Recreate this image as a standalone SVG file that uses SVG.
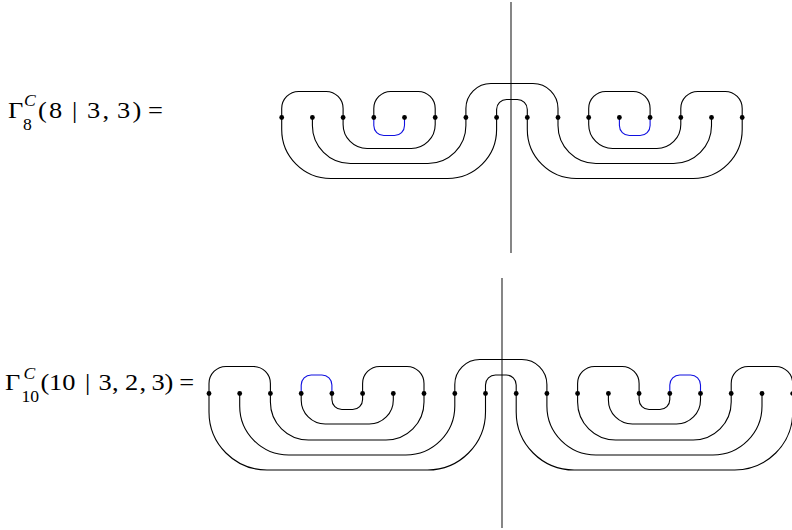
<svg xmlns="http://www.w3.org/2000/svg" width="792" height="530" viewBox="0 0 792 530">
<style>
.c{fill:none;stroke:#000;stroke-width:1.1}
.b{fill:none;stroke:#1010e0;stroke-width:1.1}
.v{fill:none;stroke:#222;stroke-width:1.1}
.d{fill:#000}
.t{font-family:"Liberation Serif","Times New Roman",serif;font-size:24px;fill:#000}
.s{font-family:"Liberation Serif","Times New Roman",serif;font-size:16px;fill:#000}
.i{font-style:italic}
</style>
<rect width="792" height="530" fill="#fff"/>
<g id="label1" transform="scale(1.1,1)">
<text class="t" x="7.3" y="118">Γ</text>
<text class="s" x="20.9" y="130">8</text>
<text class="s i" x="21.8" y="106">C</text>
<text class="t" x="34.5" y="118">(</text>
<text class="t" x="44.5" y="118">8</text>
<text class="t" x="65.5" y="118">|</text>
<text class="t" x="79.1" y="118">3</text>
<text class="t" x="93.2" y="118">,</text>
<text class="t" x="106.4" y="118">3</text>
<text class="t" x="120.4" y="118">)</text>
<text class="t" x="134.5" y="118">=</text>
</g>
<g id="label2" transform="scale(1.1,1)">
<text class="t" x="4.5" y="390">Γ</text>
<text class="s" x="19.5" y="402">10</text>
<text class="s i" x="21.4" y="379">C</text>
<text class="t" x="36.8" y="390">(</text>
<text class="t" x="44.5" y="390">10</text>
<text class="t" x="77.3" y="390">|</text>
<text class="t" x="89.5" y="390">3</text>
<text class="t" x="101.8" y="390">,</text>
<text class="t" x="113.6" y="390">2</text>
<text class="t" x="126.8" y="390">,</text>
<text class="t" x="137.7" y="390">3</text>
<text class="t" x="149.5" y="390">)</text>
<text class="t" x="163" y="390">=</text>
</g>
<g id="connectors">
<line class="v" x1="511" y1="2" x2="511" y2="253"/>
<line class="v" x1="502" y1="278" x2="502" y2="528"/>
<path class="c" d="M281.7,117.5 V108.5 A17 17 0 0 1 298.7,91.5 H326.1 A17 17 0 0 1 343.1,108.5 V117.5"/>
<path class="c" d="M373.8,117.5 V108.5 A17 17 0 0 1 390.8,91.5 H418.2 A17 17 0 0 1 435.2,108.5 V117.5"/>
<path class="c" d="M588.7,117.5 V108.5 A17 17 0 0 1 605.7,91.5 H633.1 A17 17 0 0 1 650.1,108.5 V117.5"/>
<path class="c" d="M680.8,117.5 V108.5 A17 17 0 0 1 697.8,91.5 H725.2 A17 17 0 0 1 742.2,108.5 V117.5"/>
<path class="c" d="M465.9,117.5 V108.5 A25 25 0 0 1 490.9,83.5 H533 A25 25 0 0 1 558,108.5 V117.5"/>
<path class="c" d="M496.6,117.5 V109.5 A10 10 0 0 1 506.6,99.5 H517.3 A10 10 0 0 1 527.3,109.5 V117.5"/>
<path class="b" d="M373.8,117.5 V125.5 A10 10 0 0 0 383.8,135.5 H394.5 A10 10 0 0 0 404.5,125.5 V117.5"/>
<path class="b" d="M619.4,117.5 V125.5 A10 10 0 0 0 629.4,135.5 H640.1 A10 10 0 0 0 650.1,125.5 V117.5"/>
<path class="c" d="M343.1,117.5 V124.5 A24 24 0 0 0 367.1,148.5 H411.2 A24 24 0 0 0 435.2,124.5 V117.5"/>
<path class="c" d="M588.7,117.5 V124.5 A24 24 0 0 0 612.7,148.5 H656.8 A24 24 0 0 0 680.8,124.5 V117.5"/>
<path class="c" d="M312.4,117.5 V125.5 A38 38 0 0 0 350.4,163.5 H427.9 A38 38 0 0 0 465.9,125.5 V117.5"/>
<path class="c" d="M558,117.5 V125.5 A38 38 0 0 0 596,163.5 H673.5 A38 38 0 0 0 711.5,125.5 V117.5"/>
<path class="c" d="M281.7,117.5 V129.5 A49 49 0 0 0 330.7,178.5 H447.6 A49 49 0 0 0 496.6,129.5 V117.5"/>
<path class="c" d="M527.3,117.5 V129.5 A49 49 0 0 0 576.3,178.5 H693.2 A49 49 0 0 0 742.2,129.5 V117.5"/>
<path class="c" d="M209,393.5 V383.5 A17 17 0 0 1 226,366.5 H253.4 A17 17 0 0 1 270.4,383.5 V393.5"/>
<path class="c" d="M362.6,393.5 V383.5 A17 17 0 0 1 379.6,366.5 H407 A17 17 0 0 1 424,383.5 V393.5"/>
<path class="c" d="M577.6,393.5 V383.5 A17 17 0 0 1 594.6,366.5 H622.1 A17 17 0 0 1 639.1,383.5 V393.5"/>
<path class="c" d="M731.2,393.5 V383.5 A17 17 0 0 1 748.2,366.5 H775.7 A17 17 0 0 1 792.7,383.5 V393.5"/>
<path class="b" d="M301.2,393.5 V385 A10 10 0 0 1 311.2,375 H321.9 A10 10 0 0 1 331.9,385 V393.5"/>
<path class="b" d="M669.8,393.5 V385 A10 10 0 0 1 679.8,375 H690.5 A10 10 0 0 1 700.5,385 V393.5"/>
<path class="c" d="M485.5,393.5 V385 A10 10 0 0 1 495.5,375 H506.2 A10 10 0 0 1 516.2,385 V393.5"/>
<path class="c" d="M454.8,393.5 V384.5 A25 25 0 0 1 479.8,359.5 H521.9 A25 25 0 0 1 546.9,384.5 V393.5"/>
<path class="c" d="M331.9,393.5 V399.5 A10 10 0 0 0 341.9,409.5 H352.6 A10 10 0 0 0 362.6,399.5 V393.5"/>
<path class="c" d="M639.1,393.5 V399.5 A10 10 0 0 0 649.1,409.5 H659.8 A10 10 0 0 0 669.8,399.5 V393.5"/>
<path class="c" d="M301.2,393.5 V400 A24 24 0 0 0 325.2,424 H369.3 A24 24 0 0 0 393.3,400 V393.5"/>
<path class="c" d="M608.4,393.5 V400 A24 24 0 0 0 632.4,424 H676.5 A24 24 0 0 0 700.5,400 V393.5"/>
<path class="c" d="M270.4,393.5 V402 A38 38 0 0 0 308.4,440 H386 A38 38 0 0 0 424,402 V393.5"/>
<path class="c" d="M577.6,393.5 V402 A38 38 0 0 0 615.6,440 H693.2 A38 38 0 0 0 731.2,402 V393.5"/>
<path class="c" d="M239.7,393.5 V406 A49 49 0 0 0 288.7,455 H405.8 A49 49 0 0 0 454.8,406 V393.5"/>
<path class="c" d="M546.9,393.5 V406 A49 49 0 0 0 595.9,455 H713 A49 49 0 0 0 762,406 V393.5"/>
<path class="c" d="M209,393.5 V412 A58 58 0 0 0 267,470 H427.5 A58 58 0 0 0 485.5,412 V393.5"/>
<path class="c" d="M516.2,393.5 V412 A58 58 0 0 0 574.2,470 H734.7 A58 58 0 0 0 792.7,412 V393.5"/>
</g>
<g id="dots1">
<circle class="d" cx="281.7" cy="117.5" r="2.4"/><circle class="d" cx="312.4" cy="117.5" r="2.4"/><circle class="d" cx="343.1" cy="117.5" r="2.4"/><circle class="d" cx="373.8" cy="117.5" r="2.4"/><circle class="d" cx="404.5" cy="117.5" r="2.4"/><circle class="d" cx="435.2" cy="117.5" r="2.4"/><circle class="d" cx="465.9" cy="117.5" r="2.4"/><circle class="d" cx="496.6" cy="117.5" r="2.4"/><circle class="d" cx="527.3" cy="117.5" r="2.4"/><circle class="d" cx="558" cy="117.5" r="2.4"/><circle class="d" cx="588.7" cy="117.5" r="2.4"/><circle class="d" cx="619.4" cy="117.5" r="2.4"/><circle class="d" cx="650.1" cy="117.5" r="2.4"/><circle class="d" cx="680.8" cy="117.5" r="2.4"/><circle class="d" cx="711.5" cy="117.5" r="2.4"/><circle class="d" cx="742.2" cy="117.5" r="2.4"/>
</g>
<g id="dots2">
<circle class="d" cx="209" cy="393.5" r="2.4"/><circle class="d" cx="239.7" cy="393.5" r="2.4"/><circle class="d" cx="270.4" cy="393.5" r="2.4"/><circle class="d" cx="301.2" cy="393.5" r="2.4"/><circle class="d" cx="331.9" cy="393.5" r="2.4"/><circle class="d" cx="362.6" cy="393.5" r="2.4"/><circle class="d" cx="393.3" cy="393.5" r="2.4"/><circle class="d" cx="424" cy="393.5" r="2.4"/><circle class="d" cx="454.8" cy="393.5" r="2.4"/><circle class="d" cx="485.5" cy="393.5" r="2.4"/><circle class="d" cx="516.2" cy="393.5" r="2.4"/><circle class="d" cx="546.9" cy="393.5" r="2.4"/><circle class="d" cx="577.6" cy="393.5" r="2.4"/><circle class="d" cx="608.4" cy="393.5" r="2.4"/><circle class="d" cx="639.1" cy="393.5" r="2.4"/><circle class="d" cx="669.8" cy="393.5" r="2.4"/><circle class="d" cx="700.5" cy="393.5" r="2.4"/><circle class="d" cx="731.2" cy="393.5" r="2.4"/><circle class="d" cx="762" cy="393.5" r="2.4"/><circle class="d" cx="792.7" cy="393.5" r="2.4"/>
</g>
</svg>
